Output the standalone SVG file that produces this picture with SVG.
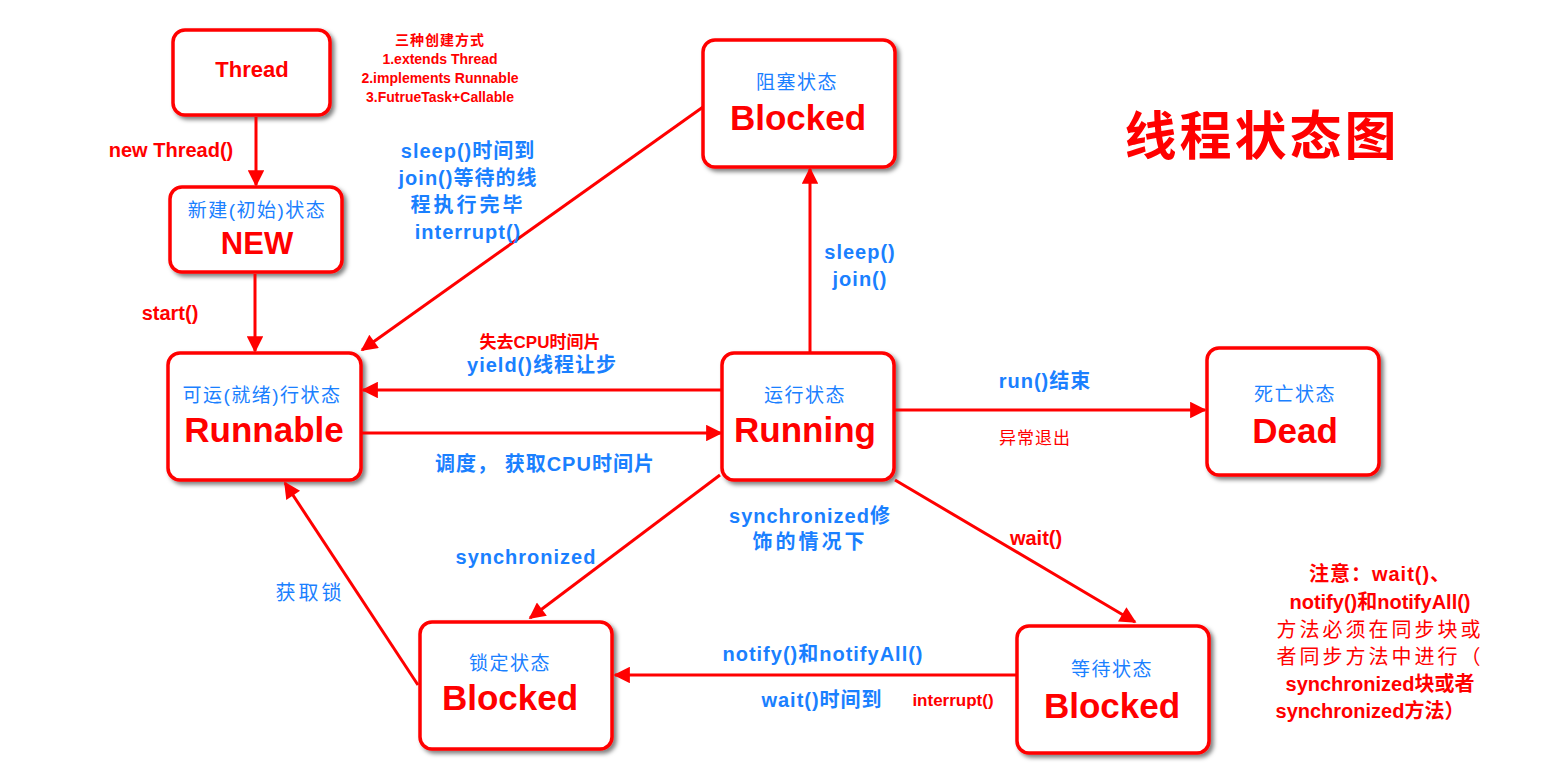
<svg xmlns="http://www.w3.org/2000/svg" width="1542" height="775" viewBox="0 0 1542 775">
<style>
.box{fill:#fff;stroke:#f00;stroke-width:3.5}
.c{stroke:#f00;stroke-width:3;fill:none;marker-end:url(#ah)}
text{font-family:"Liberation Sans","Noto Sans CJK SC",sans-serif;text-anchor:middle}
.r{fill:#f00;font-weight:bold}
.b{fill:#1a80ff;font-weight:bold;letter-spacing:1px}
.bn{fill:#1a80ff;letter-spacing:1.5px}
.big{fill:#f00;font-weight:bold;font-size:35px}
</style>
<defs>
<marker id="ah" viewBox="0 0 10 10" refX="9" refY="5" markerWidth="8" markerHeight="5.5" orient="auto" markerUnits="strokeWidth"><path d="M0,0L10,5L0,10z" fill="#f00"/></marker>
<filter id="sh" x="-10%" y="-10%" width="130%" height="130%"><feDropShadow dx="3" dy="3" stdDeviation="2" flood-color="#000" flood-opacity="0.5"/></filter>
</defs>
<text x="1262" y="155" class="r" style="font-size:52px;letter-spacing:3px">线程状态图</text>
<g id="thread"><rect class="box" filter="url(#sh)" x="173" y="30" width="157" height="85" rx="12"/><text x="252" y="77" class="r" font-size="22">Thread</text></g>
<text x="440" y="45" class="r" font-size="14" style="letter-spacing:1px">三种创建方式</text>
<text x="440" y="64" class="r" font-size="14">1.extends Thread</text>
<text x="440" y="83" class="r" font-size="14">2.implements Runnable</text>
<text x="440" y="102" class="r" font-size="14">3.FutrueTask+Callable</text>
<g id="new"><rect class="box" filter="url(#sh)" x="170" y="187" width="172" height="85" rx="12"/><text x="257" y="217" class="bn" font-size="19">新建(初始)状态</text><text x="257" y="254" class="big" style="font-size:31px">NEW</text></g>
<g id="runnable"><rect class="box" filter="url(#sh)" x="168" y="353" width="193" height="127" rx="12"/><text x="262" y="402" class="bn" font-size="19">可运(就绪)行状态</text><text x="264" y="442" class="big">Runnable</text></g>
<g id="blockedTop"><rect class="box" filter="url(#sh)" x="703" y="40" width="192" height="127" rx="12"/><text x="797" y="89" class="bn" font-size="19">阻塞状态</text><text x="798" y="130" class="big">Blocked</text></g>
<g id="running"><rect class="box" filter="url(#sh)" x="722" y="353" width="172" height="127" rx="12"/><text x="805" y="402" class="bn" font-size="19">运行状态</text><text x="805" y="442" class="big">Running</text></g>
<g id="dead"><rect class="box" filter="url(#sh)" x="1207" y="348" width="172" height="127" rx="12"/><text x="1295" y="401" class="bn" font-size="19">死亡状态</text><text x="1295" y="443" class="big">Dead</text></g>
<g id="lock"><rect class="box" filter="url(#sh)" x="420" y="622" width="192" height="127" rx="12"/><text x="510" y="670" class="bn" font-size="19">锁定状态</text><text x="510" y="710" class="big">Blocked</text></g>
<g id="wait"><rect class="box" filter="url(#sh)" x="1017" y="626" width="192" height="127" rx="12"/><text x="1112" y="676" class="bn" font-size="19">等待状态</text><text x="1112" y="718" class="big">Blocked</text></g>
<g id="connectors">
<path class="c" d="M256,117V185"/>
<path class="c" d="M255,274V351"/>
<path class="c" d="M703,107L362,350"/>
<path class="c" d="M810,353V169"/>
<path class="c" d="M722,390H363"/>
<path class="c" d="M361,433H721"/>
<path class="c" d="M895,410H1205"/>
<path class="c" d="M720,475L530,618"/>
<path class="c" d="M895,480L1135,622"/>
<path class="c" d="M1017,675H615"/>
<path class="c" d="M418,685L285,483"/>
</g>
<text x="171" y="157" class="r" font-size="20">new Thread()</text>
<text x="170" y="320" class="r" font-size="20">start()</text>
<text x="468" y="158" class="b" font-size="20">sleep()时间到</text>
<text x="468" y="185" class="b" font-size="20">join()等待的线</text>
<text x="468" y="212" class="b" font-size="20" style="letter-spacing:3px">程执行完毕</text>
<text x="468" y="239" class="b" font-size="20">interrupt()</text>
<text x="860" y="259" class="b" font-size="20">sleep()</text>
<text x="860" y="286" class="b" font-size="20">join()</text>
<text x="540" y="348" class="r" font-size="17">失去CPU时间片</text>
<text x="542" y="372" class="b" font-size="20">yield()线程让步</text>
<text x="545" y="471" class="b" font-size="20">调度， 获取CPU时间片</text>
<text x="1045" y="388" class="b" font-size="20">run()结束</text>
<text x="1035" y="444" class="r" font-size="17" style="font-weight:normal;letter-spacing:1px">异常退出</text>
<text x="810" y="523" class="b" font-size="20">synchronized修</text>
<text x="810" y="549" class="b" font-size="20" style="letter-spacing:3px">饰的情况下</text>
<text x="526" y="564" class="b" font-size="20">synchronized</text>
<text x="1036" y="545" class="r" font-size="20">wait()</text>
<text x="310" y="600" class="bn" font-size="20" style="letter-spacing:3px">获取锁</text>
<text x="823" y="661" class="b" font-size="20">notify()和notifyAll()</text>
<text x="822" y="707" class="b" font-size="20">wait()时间到</text>
<text x="953" y="706" class="r" font-size="17">interrupt()</text>
<text x="1380" y="581" class="r" font-size="20" style="letter-spacing:1px">注意：wait()、</text>
<text x="1380" y="609" class="r" font-size="20">notify()和notifyAll()</text>
<text x="1380" y="637" class="r" font-size="20" style="font-weight:normal;letter-spacing:3px">方法必须在同步块或</text>
<text x="1380" y="664" class="r" font-size="20" style="font-weight:normal;letter-spacing:3px">者同步方法中进行（</text>
<text x="1380" y="691" class="r" font-size="20">synchronized块或者</text>
<text x="1370" y="718" class="r" font-size="20">synchronized方法）</text>
</svg>
